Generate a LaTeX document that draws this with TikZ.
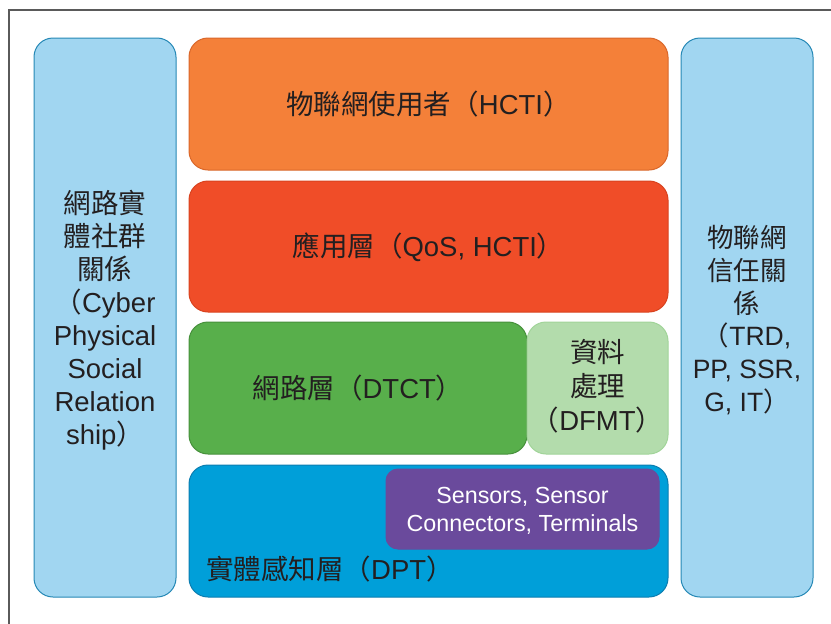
\documentclass[tikz,border=0pt]{standalone}
\usepackage{fontspec}
\setmainfont{Liberation Sans}
\newfontfamily\cjk{Noto Sans CJK TC}
\newcommand\zh[1]{{\cjk #1}}

\definecolor{sideFill}{HTML}{A1D6F1}
\definecolor{sideLine}{HTML}{2588B5}
\definecolor{orgFill}{HTML}{F48039}
\definecolor{orgLine}{HTML}{D9672A}
\definecolor{redFill}{HTML}{F04D28}
\definecolor{redLine}{HTML}{D8431F}
\definecolor{grnFill}{HTML}{58AF4B}
\definecolor{grnLine}{HTML}{46903B}
\definecolor{lgrFill}{HTML}{B3DCAC}
\definecolor{lgrLine}{HTML}{A1D499}
\definecolor{bluFill}{HTML}{009FD9}
\definecolor{bluLine}{HTML}{0B7DB0}
\definecolor{purFill}{HTML}{6A4A9C}
\definecolor{txt}{HTML}{231F20}
\definecolor{frame}{HTML}{5A5A5A}

\begin{document}
\begin{tikzpicture}[x=1pt,y=-1pt,
  box/.style={draw, line width=1pt, rounded corners=19pt, inner sep=0pt},
  sidebox/.style={box, fill=sideFill, draw=sideLine},
  lbl/.style={inner sep=0pt, align=center, text=txt, font=\fontsize{27.5}{33}\selectfont},
]
\useasboundingbox (0,0) rectangle (831,624);

% outer frame
\draw[frame, line width=2pt] (8.5,640) -- (8.5,10) -- (850,10);

% side columns
\node[sidebox, minimum width=142pt, minimum height=559pt] (cpsr) at (105,317.5) {};
\node[sidebox, minimum width=132pt, minimum height=559pt] (trust) at (747,317.5) {};
\node[lbl] (cpsrtext) at (105,320.5)
  {\zh{網路實}\\\zh{體社群}\\\zh{關係}\\\zh{（}Cyber\\Physical\\Social\\Relation\\ship\zh{）}};
\node[lbl, font=\fontsize{26.5}{32.8}\selectfont] (trusttext) at (747,320)
  {\zh{物聯網}\\\zh{信任關}\\\zh{係}\\\zh{（}TRD,\\PP, SSR,\\G, IT\zh{）}};

% layers
\node[box, fill=orgFill, draw=orgLine, minimum width=479pt, minimum height=132pt] (hcti) at (428.5,104) {};
\node[lbl] (hctitext) at (hcti) {\zh{物聯網使用者（}HCTI\zh{）}};
\node[box, fill=redFill, draw=redLine, minimum width=479pt, minimum height=131pt] (app) at (428.5,246.5) {};
\node[lbl] (apptext) at (428.5,247.5) {\zh{應用層（}QoS, HCTI\zh{）}};
\node[box, fill=grnFill, draw=grnLine, minimum width=338pt, minimum height=132pt] (net) at (358,388) {};
\node[lbl] (nettext) at (net) {\zh{網路層（}DTCT\zh{）}};
\node[box, fill=lgrFill, draw=lgrLine, minimum width=141pt, minimum height=132pt] (dfmt) at (597.5,388) {};
\node[lbl] (dfmttext) at (597.5,386)
  {\zh{資料}\\[1pt]\zh{處理}\\[1pt]\zh{（}DFMT\zh{）}};
\node[box, fill=bluFill, draw=bluLine, minimum width=479pt, minimum height=132pt] (dpt) at (428.5,531) {};
\node[box, fill=purFill, draw=purFill, rounded corners=12pt,
  minimum width=273pt, minimum height=80pt] (sensors) at (522.5,509) {};
\node[lbl, text=white, font=\fontsize{23.3}{28}\selectfont] (sensortext) at (522.5,511)
  {Sensors, Sensor\\Connectors, Terminals};
\node[lbl, anchor=west] (dptlabel) at (206,569)
  {\zh{實體感知層（}DPT\zh{）}};
\end{tikzpicture}
\end{document}
